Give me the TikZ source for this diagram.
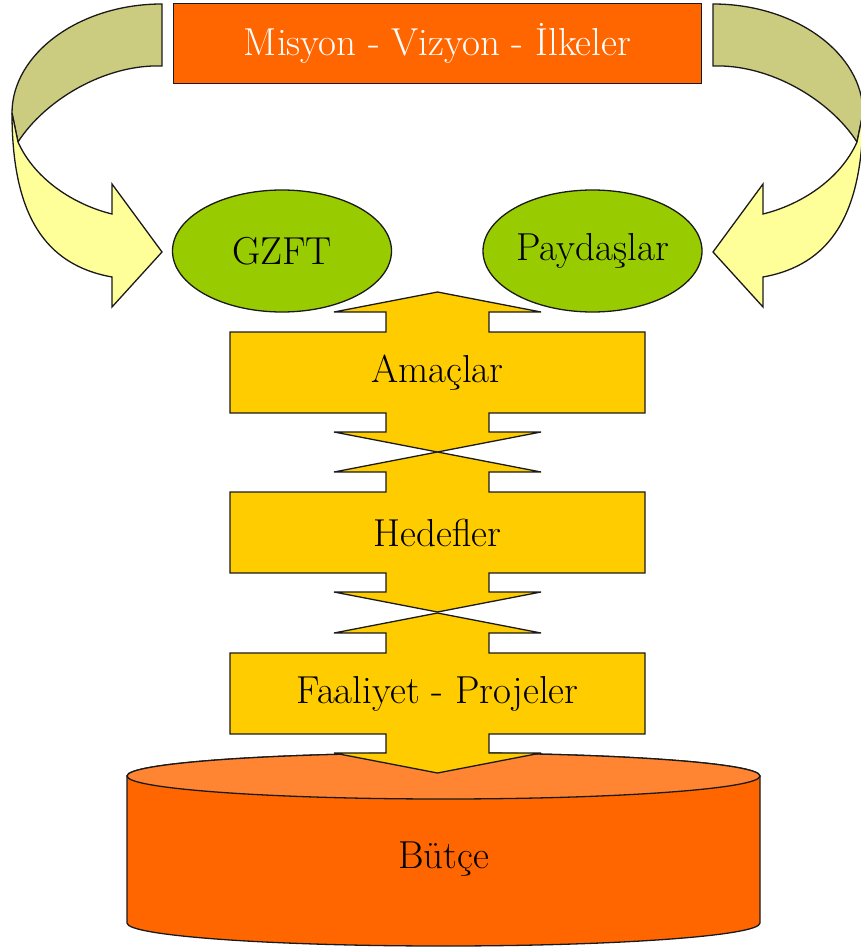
\documentclass[tikz,border=0pt]{standalone}
\usepackage{fontspec}
\usetikzlibrary{shapes.geometric}
\definecolor{orng}{HTML}{FF6600}
\definecolor{orngtop}{HTML}{FF8533}
\definecolor{yell}{HTML}{FFCC00}
\definecolor{grn}{HTML}{99CC00}
\definecolor{khaki}{HTML}{CCCC80}
\definecolor{lyell}{HTML}{FFFF99}
\definecolor{edge}{HTML}{1A1A1A}
\begin{document}
\begin{tikzpicture}[x=1pt,y=-1pt,
  outl/.style={draw=edge, line width=1.3pt, line join=miter},
  bigfont/.style={font=\fontsize{39}{44}\selectfont},
  lbl/.style={bigfont, text=black, inner sep=0pt},
  topbox/.style={outl, fill=orng, minimum width=528pt, minimum height=80pt,
     bigfont, text=white},
  oval/.style={outl, ellipse, fill=grn, minimum width=219pt, minimum height=122pt,
     bigfont, inner sep=0pt},
  colblock/.style={outl, fill=yell},
  backband/.style={outl, fill=khaki},
  frontband/.style={outl, fill=lyell}]
\useasboundingbox (0,0) rectangle (860,949);

% Budget cylinder
\path[outl, fill=orng] (127,776) -- (127,923)
   arc[start angle=180, end angle=360, x radius=316.5pt, y radius=23pt]
   -- (760,776)
   arc[start angle=0, end angle=180, x radius=316.5pt, y radius=23pt] -- cycle;
\path[outl, fill=orngtop] (443.5,776) ellipse [x radius=316.5pt, y radius=23pt];
\node[lbl] (butce) at (443.5,859) {Bütçe};

% Column of double arrows
\foreach \t/\nm/\txt in {292/amac/Amaçlar, 452/hedef/Hedefler, 613/faal/Faaliyet - Projeler}{
  \path[colblock] (437.5,\t) -- (541,\t+20) -- (489,\t+20) -- (489,\t+40)
    -- (645,\t+40) -- (645,\t+121) -- (489,\t+121) -- (489,\t+140)
    -- (541,\t+140) -- (437.5,\t+160) -- (334,\t+140) -- (386,\t+140)
    -- (386,\t+121) -- (230,\t+121) -- (230,\t+40) -- (386,\t+40)
    -- (386,\t+20) -- (334,\t+20) -- cycle;
  \node[lbl] (\nm) at (437.5,\t+80.5) {\txt};
}

% Top box and ellipses
\node[topbox] (mvi) at (437.5,43.5) {Misyon - Vizyon - İlkeler};
\node[oval] (gzft) at (282,251) {GZFT};
\node[oval] (payd) at (592.5,251) {Paydaşlar};

% Curved arrows (left one, and its mirror image on the right)
\foreach \s/\m in {0/1, 875/-1}{
  \begin{scope}[xshift=\s pt, xscale=\m]
    \path[backband] (162,4) .. controls (79,4) and (12,54) .. (12,113)
       -- (18,142) .. controls (45,100) and (105,64) .. (162,66) -- cycle;
    \path[frontband] (12,113) .. controls (12,215) and (45,265) .. (112,277)
       -- (112,307) -- (162,252) -- (112,184) -- (112,214)
       .. controls (75,205) and (35,180) .. (18,142) -- cycle;
  \end{scope}
}
\end{tikzpicture}
\end{document}
